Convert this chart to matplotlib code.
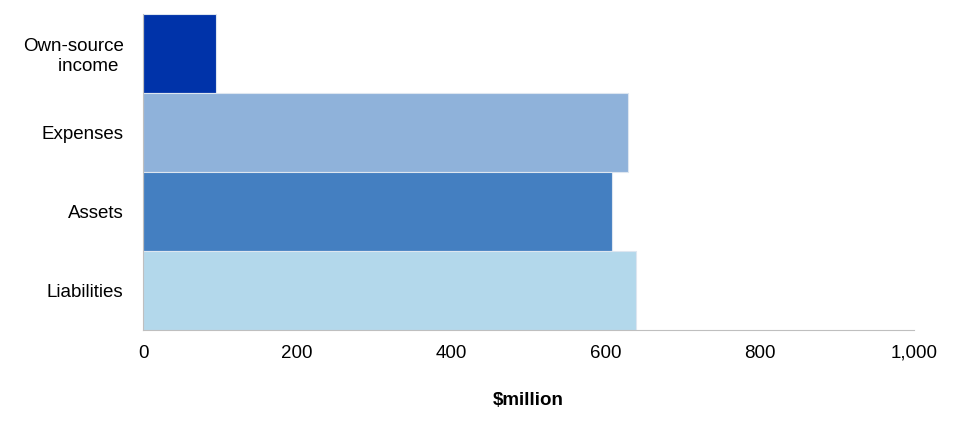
import matplotlib
matplotlib.use('Agg')
import matplotlib.pyplot as plt

plt.rcParams['font.family'] = ['Liberation Sans', 'DejaVu Sans']

# Données ($ millions)
categories = ['Own-source\nincome ', 'Expenses', 'Assets', 'Liabilities']
values = [94, 629, 608, 639]
colors = ['#0033A9', '#8FB2DA', '#447FC1', '#B3D8EB']
xticks = [0, 200, 400, 600, 800, 1000]
xtick_labels = ['0', '200', '400', '600', '800', '1,000']

fig = plt.figure(figsize=(9.6, 4.21), dpi=100)
ax = fig.add_axes([0.149, 0.216, 0.803, 0.751])

pos = list(range(len(categories)))
ax.barh(pos, values, height=1.0, color=colors, edgecolor='#DDE6F0', linewidth=0.8)

ax.set_ylim(len(categories) - 0.5, -0.5)
ax.set_xlim(0, 1000)
ax.set_yticks(pos)
ax.set_yticklabels(categories, fontsize=13.5, multialignment='right', linespacing=1.2)
ax.set_xticks(xticks)
ax.set_xticklabels(xtick_labels, fontsize=13.5)
ax.tick_params(axis='both', length=0)
ax.tick_params(axis='x', pad=10.5)
ax.tick_params(axis='y', pad=14)

for s in ['top', 'right']:
    ax.spines[s].set_visible(False)
ax.spines['left'].set_color('#BFBFBF')
ax.spines['bottom'].set_color('#BFBFBF')

ax.set_xlabel(r'\$million', fontsize=13.5, fontweight='bold', labelpad=21.5)

fig.savefig('out.png', dpi=100)
